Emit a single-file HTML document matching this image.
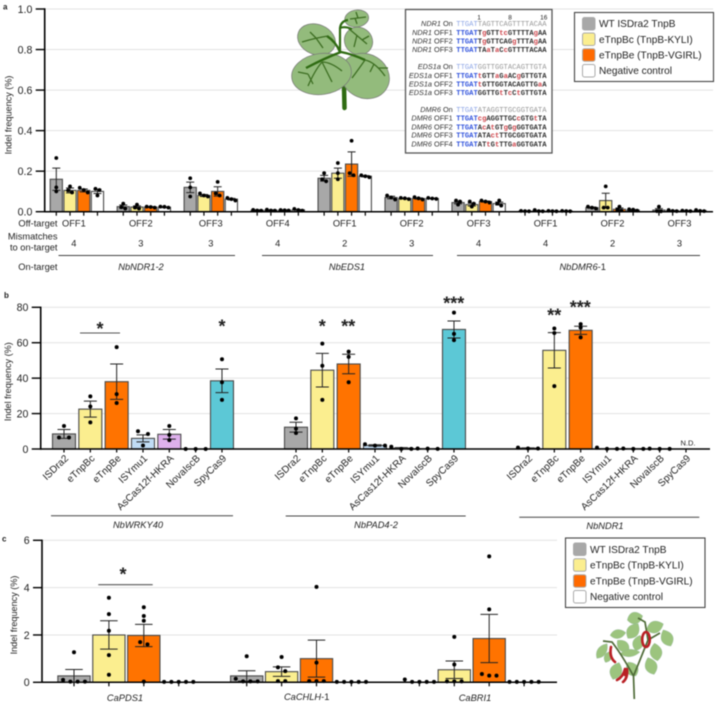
<!DOCTYPE html>
<html lang="en">
<head>
<meta charset="utf-8">
<title>Indel frequency chart</title>
<style>
html,body{margin:0;padding:0;background:#fff;width:720px;height:705px;overflow:hidden}
svg{display:block;filter:blur(0.4px)}
text{font-family:"Liberation Sans",sans-serif;fill:#222}
.it{font-style:italic}
.seq{font-family:"Liberation Mono",monospace;font-size:7.17px;font-weight:bold;fill:#333}
.seq .b{fill:#3355dd}
.seq .r{fill:#d0494f}
.seq.on{fill:#999;font-weight:normal}
.seq.on .b{fill:#8ea6e6}
.lab{font-size:7.3px;text-anchor:end;fill:#333}
.leg{font-size:10.1px}
.sm{font-size:9.3px}
.ax{font-size:9.1px}
.star{font-size:18px;text-anchor:middle;font-weight:bold}
.sw{stroke:#aaa;stroke-width:1}
.leaf{fill:#93bb7c;stroke:#777;stroke-width:.7}
.vein{fill:none;stroke:#3d6e22;stroke-width:1.3}
.pl{fill:#9cc47e;stroke:#8aa;stroke-width:.2}
</style>
</head>
<body>
<svg width="720" height="705" viewBox="0 0 720 705" xmlns="http://www.w3.org/2000/svg">
  <g id="grid-layer"></g>

  <g>
    <path d="M344 86 L344.5 108" stroke="#2f6b12" stroke-width="4.5" stroke-linecap="round" fill="none"/>
    <ellipse class="leaf" cx="356.7" cy="18.5" rx="12" ry="8.5" transform="rotate(-8 356.7 18.5)"/>
    <ellipse class="leaf" cx="358.5" cy="41" rx="14.5" ry="13.5" transform="rotate(35 358.5 41)"/>
    <ellipse class="leaf" cx="316.5" cy="39.5" rx="19.5" ry="15" transform="rotate(22 316.5 39.5)"/>
    <ellipse class="leaf" cx="365" cy="76" rx="25" ry="22" transform="rotate(28 365 76)"/>
    <ellipse class="leaf" cx="321.5" cy="74" rx="30" ry="20.5" transform="rotate(-8 321.5 74)"/>
    <path d="M340 52 L340 28 Q341 21 348 20 M340 28 Q345 26 352 29" fill="none" stroke="#2f6b12" stroke-width="2.2"/>
    <path d="M306 68 Q325 58 341 52 Q352 54 365 60 M340 52 Q336 42 327 36" fill="none" stroke="#2f6b12" stroke-width="2.4"/>
    <path class="vein" d="M322 62 Q315 70 308 86 M322 62 Q331 62 342 71 M322 62 L332 82 M308 74 L298 72 M308 74 L313 84 M302 42 Q315 38 328 36 M316 38 L323 48 M316 38 L310 32 M365 60 Q375 62 385 76 M365 60 Q358 70 352 78 M374 64 L370 72 M378 68 L388 68 M348 28 L367 44 M357 35 L354 47 M362 40 L369 36 M350 19 L366 17 M355 18 L357 24 M358 18 L356 12"/>
  </g>

  <g>
    <rect x="405.5" y="9.5" width="146.5" height="143.5" fill="#fff" stroke="#555" stroke-width="1.3"/>
    <text x="479" y="19.5" font-size="6.5" text-anchor="middle">1</text>
    <text x="510" y="19.5" font-size="6.5" text-anchor="middle">8</text>
    <text x="543.7" y="19.5" font-size="6.5" text-anchor="middle">16</text>

    <text class="lab" x="452.7" y="26"><tspan class="it">NDR1</tspan> On</text>
    <text class="seq on" x="456.3" y="26"><tspan class="b">TTGAT</tspan>TAGTTCAGTTTTACAA</text>
    <text class="lab" x="452.7" y="34.8"><tspan class="it">NDR1</tspan> OFF1</text>
    <text class="seq" x="456.3" y="34.8"><tspan class="b">TTGAT</tspan>T<tspan class="r">g</tspan>GTT<tspan class="r">tc</tspan>GTTTTA<tspan class="r">g</tspan>AA</text>
    <text class="lab" x="452.7" y="43.5"><tspan class="it">NDR1</tspan> OFF2</text>
    <text class="seq" x="456.3" y="43.5"><tspan class="b">TTGAT</tspan>T<tspan class="r">g</tspan>GTTCAG<tspan class="r">g</tspan>TTTA<tspan class="r">g</tspan>AA</text>
    <text class="lab" x="452.7" y="52.2"><tspan class="it">NDR1</tspan> OFF3</text>
    <text class="seq" x="456.3" y="52.2"><tspan class="b">TTGAT</tspan>TA<tspan class="r">a</tspan>T<tspan class="r">a</tspan>C<tspan class="r">c</tspan>GTTTTACAA</text>

    <text class="lab" x="452.7" y="68.8"><tspan class="it">EDS1a</tspan> On</text>
    <text class="seq on" x="456.3" y="68.8"><tspan class="b">TTGAT</tspan>GGTTGGTACAGTTGTA</text>
    <text class="lab" x="452.7" y="78"><tspan class="it">EDS1a</tspan> OFF1</text>
    <text class="seq" x="456.3" y="78"><tspan class="b">TTGAT</tspan><tspan class="r">t</tspan>GTT<tspan class="r">a</tspan>G<tspan class="r">a</tspan>AC<tspan class="r">g</tspan>GTTGTA</text>
    <text class="lab" x="452.7" y="86.5"><tspan class="it">EDS1a</tspan> OFF2</text>
    <text class="seq" x="456.3" y="86.5"><tspan class="b">TTGAT</tspan><tspan class="r">t</tspan>GTTGGTACAGTTG<tspan class="r">a</tspan>A</text>
    <text class="lab" x="452.7" y="95.2"><tspan class="it">EDS1a</tspan> OFF3</text>
    <text class="seq" x="456.3" y="95.2"><tspan class="b">TTGAT</tspan>GGTTG<tspan class="r">t</tspan>T<tspan class="r">c</tspan>C<tspan class="r">t</tspan>GTTGTA</text>

    <text class="lab" x="452.7" y="112"><tspan class="it">DMR6</tspan> On</text>
    <text class="seq on" x="456.3" y="112"><tspan class="b">TTGAT</tspan>ATAGGTTGCGGTGATA</text>
    <text class="lab" x="452.7" y="120.7"><tspan class="it">DMR6</tspan> OFF1</text>
    <text class="seq" x="456.3" y="120.7"><tspan class="b">TTGAT</tspan><tspan class="r">cg</tspan>AGGTTGC<tspan class="r">c</tspan>GTG<tspan class="r">t</tspan>TA</text>
    <text class="lab" x="452.7" y="129.4"><tspan class="it">DMR6</tspan> OFF2</text>
    <text class="seq" x="456.3" y="129.4"><tspan class="b">TTGAT</tspan>A<tspan class="r">c</tspan>A<tspan class="r">t</tspan>GT<tspan class="r">g</tspan>G<tspan class="r">g</tspan>GGTGATA</text>
    <text class="lab" x="452.7" y="137.7"><tspan class="it">DMR6</tspan> OFF3</text>
    <text class="seq" x="456.3" y="137.7"><tspan class="b">TTGAT</tspan>ATA<tspan class="r">ct</tspan>TTGCGGTGATA</text>
    <text class="lab" x="452.7" y="146.4"><tspan class="it">DMR6</tspan> OFF4</text>
    <text class="seq" x="456.3" y="146.4"><tspan class="b">TTGAT</tspan>AT<tspan class="r">t</tspan>G<tspan class="r">t</tspan>TTG<tspan class="r">a</tspan>GGTGATA</text>
  </g>

  <g id="bar-layer"></g>
  <g id="axis-layer"></g>
  <g id="mark-layer"></g>

  <!-- panel letters -->
  <text x="3" y="9.5" font-size="8" font-weight="bold">a</text>
  <text x="4" y="298" font-size="8" font-weight="bold">b</text>
  <text x="2" y="541.5" font-size="8" font-weight="bold">c</text>

  <!-- axis titles -->
  <text class="ax" transform="translate(11.5 115) rotate(-90)" text-anchor="middle">Indel frequency (%)</text>
  <text class="ax" transform="translate(11 381.7) rotate(-90)" text-anchor="middle">Indel frequency (%)</text>
  <text class="ax" transform="translate(17 615) rotate(-90)" text-anchor="middle">Indel frequency (%)</text>

  <!-- panel a annotations -->
  <text class="sm" x="57.5" y="226.5" text-anchor="end">Off-target</text>
  <text class="sm" x="57.5" y="239.5" text-anchor="end">Mismatches</text>
  <text class="sm" x="57.5" y="250.5" text-anchor="end">to on-target</text>
  <text class="sm" x="57.5" y="270" text-anchor="end">On-target</text>
  <g stroke="#444" stroke-width="1">
    <line x1="58.5" x2="235" y1="255.5" y2="255.5"/>
    <line x1="262" x2="433" y1="255.5" y2="255.5"/>
    <line x1="457" x2="700" y1="255.5" y2="255.5"/>
  </g>
  <text class="sm it" x="141" y="270" text-anchor="middle">NbNDR1-2</text>
  <text class="sm it" x="347" y="270" text-anchor="middle">NbEDS1</text>
  <text class="sm" x="582.7" y="270" text-anchor="middle"><tspan class="it">NbDMR6</tspan>-1</text>

  <!-- panel b annotations -->
  <g stroke="#444" stroke-width="1">
    <line x1="51" x2="233" y1="515.7" y2="515.7"/>
    <line x1="285.7" x2="465.7" y1="516" y2="516"/>
    <line x1="519.3" x2="699.3" y1="517.3" y2="517.3"/>
  </g>
  <text class="sm it" x="138" y="528" text-anchor="middle">NbWRKY40</text>
  <text class="sm it" x="376" y="528" text-anchor="middle">NbPAD4-2</text>
  <text class="sm it" x="605" y="529" text-anchor="middle">NbNDR1</text>
  <line x1="80" x2="120" y1="333" y2="333" stroke="#555" stroke-width="1.1"/>
  <text class="star" x="100" y="335">*</text>
  <text class="star" x="222" y="332.7">*</text>
  <text class="star" x="322.3" y="332.7">*</text>
  <text class="star" x="348.3" y="332.7">**</text>
  <text class="star" x="453.7" y="309.7">***</text>
  <text class="star" x="554.3" y="321.7">**</text>
  <text class="star" x="580.3" y="313.7">***</text>
  <text x="688" y="445.5" font-size="7.5" text-anchor="middle">N.D.</text>

  <!-- panel c annotations -->
  <line x1="98.3" x2="152.7" y1="584.7" y2="584.7" stroke="#555" stroke-width="1.1"/>
  <text class="star" x="123" y="580.7">*</text>
  <text class="sm it" x="125" y="701" text-anchor="middle">CaPDS1</text>
  <text class="sm" x="306.7" y="700" text-anchor="middle"><tspan class="it">CaCHLH</tspan>-1</text>
  <text class="sm it" x="475" y="701" text-anchor="middle">CaBRI1</text>

  <!-- legend a -->
  <g>
    <rect x="574.5" y="12.5" width="139" height="69" fill="#fff" stroke="#444" stroke-width="1.1"/>
    <rect class="sw" x="582.5" y="17.5" width="12.5" height="12.5" rx="2" fill="#a8a8a8"/>
    <text class="leg" x="599" y="27">WT ISDra2 TnpB</text>
    <rect class="sw" x="582.5" y="33" width="12.5" height="12.5" rx="2" fill="#fbee8f"/>
    <text class="leg" x="599" y="42.8">eTnpBc (TnpB-KYLI)</text>
    <rect class="sw" x="582.5" y="48.7" width="12.5" height="12.5" rx="2" fill="#ff6a00"/>
    <text class="leg" x="599" y="58.5">eTnpBe (TnpB-VGIRL)</text>
    <rect class="sw" x="582.5" y="64.5" width="12.5" height="12.5" rx="2" fill="#fff"/>
    <text class="leg" x="599" y="74.2">Negative control</text>
  </g>

  <!-- legend c -->
  <g>
    <rect x="565.5" y="538" width="139.5" height="69.5" fill="#fff" stroke="#444" stroke-width="1.1"/>
    <rect class="sw" x="573.5" y="543" width="12.5" height="12.5" rx="2" fill="#a8a8a8"/>
    <text class="leg" x="590" y="552.8">WT ISDra2 TnpB</text>
    <rect class="sw" x="573.5" y="558.8" width="12.5" height="12.5" rx="2" fill="#fbee8f"/>
    <text class="leg" x="590" y="568.5">eTnpBc (TnpB-KYLI)</text>
    <rect class="sw" x="573.5" y="574.7" width="12.5" height="12.5" rx="2" fill="#ff6a00"/>
    <text class="leg" x="590" y="584.5">eTnpBe (TnpB-VGIRL)</text>
    <rect class="sw" x="573.5" y="590.5" width="12.5" height="12.5" rx="2" fill="#fff"/>
    <text class="leg" x="590" y="600.2">Negative control</text>
  </g>

  <!-- pepper plant -->
  <g>
    <g id="pepper-leaves">
      <path class="pl" transform="translate(635 618) rotate(75)" d="M0,-8 C8,-3 8,4 0,8 C-8,4 -8,-3 0,-8Z"/>
      <path class="pl" transform="translate(655 627) rotate(70)" d="M0,-9 C8,-3 8,4 0,9 C-8,4 -8,-3 0,-9Z"/>
      <path class="pl" transform="translate(633 631) rotate(35)" d="M0,-9 C8,-3 8,4 0,9 C-8,4 -8,-3 0,-9Z"/>
      <path class="pl" transform="translate(618 634) rotate(80)" d="M0,-8 C6,-3 6,4 0,8 C-6,4 -6,-3 0,-8Z"/>
      <path class="pl" transform="translate(667 638) rotate(-25)" d="M0,-9 C8,-3 8,4 0,9 C-8,4 -8,-3 0,-9Z"/>
      <path class="pl" transform="translate(602 651) rotate(35)" d="M0,-9 C6,-3 6,4 0,9 C-6,4 -6,-3 0,-9Z"/>
      <path class="pl" transform="translate(623 646) rotate(-45)" d="M0,-8 C7,-3 7,4 0,8 C-7,4 -7,-3 0,-8Z"/>
      <path class="pl" transform="translate(638 643) rotate(15)" d="M0,-8 C7,-3 7,4 0,8 C-7,4 -7,-3 0,-8Z"/>
      <path class="pl" transform="translate(656 652) rotate(-10)" d="M0,-9 C8,-3 8,4 0,9 C-8,4 -8,-3 0,-9Z"/>
      <path class="pl" transform="translate(630 653) rotate(85)" d="M0,-10 C5,-3 5,4 0,10 C-5,4 -5,-3 0,-10Z"/>
      <path class="pl" transform="translate(616 671) rotate(20)" d="M0,-9 C8,-3 8,4 0,9 C-8,4 -8,-3 0,-9Z"/>
      <path class="pl" transform="translate(632 669) rotate(-30)" d="M0,-8 C8,-3 8,4 0,8 C-8,4 -8,-3 0,-8Z"/>
      <path class="pl" transform="translate(651 666) rotate(-20)" d="M0,-9 C8,-3 8,4 0,9 C-8,4 -8,-3 0,-9Z"/>
      <path class="pl" transform="translate(608 657) rotate(25)" d="M0,-6 C5,-3 5,3 0,6 C-5,3 -5,-3 0,-6Z"/>
    </g>
    <path d="M634.3 699 L633.5 676 Q622 655 612 642 L603 641 M633.5 676 Q642 655 648 640 L660 633 M648 640 L645 622 L638 618" fill="none" stroke="#4f6b38" stroke-width="1.7"/>
    <ellipse cx="646" cy="639.5" rx="3.8" ry="7.5" fill="none" stroke="#b92025" stroke-width="2.6"/>
    <path d="M611 647 Q609 657 615 662" fill="none" stroke="#b92025" stroke-width="2.6" stroke-linecap="round"/>
    <path d="M625 669 Q623 677 617 680 M627 669 Q628 678 623 682 M625 669 L625 675" fill="none" stroke="#b92025" stroke-width="2.6" stroke-linecap="round"/>
  </g>

<script>
// ---------- Panel a data ----------
const aOffTargets = ['OFF1','OFF2','OFF3','OFF4','OFF1','OFF2','OFF3','OFF1','OFF2','OFF3'];
const aMismatches = ['4','3','3','4','2','3','4','4','2','3'];
const aTickValues = [0,0.2,0.4,0.6,0.8,1];
const aTickLabels = ['0.0','0.2','0.4','0.6','0.8','1.0'];
const aWtMeans = [0.16,0.025,0.12,0.007,0.165,0.07,0.045,0.003,0.02,0.008];
const aKyliMeans = [0.105,0.023,0.08,0.007,0.19,0.065,0.035,0.004,0.055,0.005];
const aVgirlMeans = [0.105,0.023,0.10,0.007,0.235,0.065,0.05,0.003,0.012,0.004];
const aNegMeans = [0.10,0.022,0.062,0.009,0.175,0.065,0.04,0.003,0.008,0.005];
const aWtSems = [0.055,0.008,0.026,0.002,0.014,0.006,0.006,0.001,0.003,0.007];
const aKyliSems = [0.012,0.006,0.005,0.002,0.025,0.002,0.007,0.001,0.036,0.001];
const aVgirlSems = [0.007,0.002,0.023,0.002,0.06,0.003,0.003,0.001,0.006,0.001];
const aNegSems = [0.01,0.002,0.004,0.002,0.003,0.002,0.007,0.001,0.002,0.001];
const aWtPoints = [[0.265,0.12,0.10],[0.04,0.022,0.015],[0.165,0.12,0.075],[0.009,0.006,0.005],[0.19,0.16,0.15],[0.08,0.07,0.06],[0.055,0.05,0.035],[0.004,0.003,0.002],[0.025,0.02,0.015],[0.025,0.003,0.002]];
const aKyliPoints = [[0.125,0.095,0.105],[0.035,0.02,0.015],[0.09,0.08,0.075],[0.01,0.006,0.005],[0.24,0.19,0.16],[0.068,0.066,0.062],[0.05,0.04,0.025],[0.008,0.003,0.002],[0.125,0.02,0.02],[0.008,0.004,0.003]];
const aVgirlPoints = [[0.118,0.095,0.107],[0.025,0.023,0.02],[0.147,0.09,0.08],[0.008,0.007,0.006],[0.35,0.19,0.18],[0.072,0.066,0.06],[0.055,0.05,0.045],[0.004,0.003,0.002],[0.025,0.01,0.005],[0.005,0.004,0.003]];
const aNegPoints = [[0.113,0.107,0.08],[0.025,0.024,0.02],[0.068,0.062,0.055],[0.014,0.008,0.005],[0.18,0.175,0.17],[0.068,0.065,0.063],[0.055,0.04,0.03],[0.004,0.003,0.002],[0.012,0.01,0.005],[0.008,0.004,0.003]];

// ---------- Panel b data ----------
const bEnzymes = ['ISDra2','eTnpBc','eTnpBe','ISYmu1','AsCas12f-HKRA','NovaIscB','SpyCas9'];
const bTickValues = [0,20,40,60,80];
const bTickLabels = ['0','20','40','60','80'];
const bColors = ['#a8a8a8','#fbee8f','#ff7300','#c0dcf5','#deb0ec','#ffffff','#5cc8d6'];
const bWrkyMeans = [8.5,22.5,38,6,8.3,0,38.5];
const bWrkySems = [2.5,4.5,10,2,2.7,0,6.7];
const bWrkyPoints = [[13,6.5,6.5],[29.7,24,15],[57.5,31,26],[10,8.5,2],[13,8,5],[0,0,0],[50.7,37.7,27.7]];
const bPadMeans = [12.3,44.5,48,2,0.5,0.2,67.5];
const bPadSems = [2.8,9.5,5.5,0.4,0.3,0.1,4.8];
const bPadPoints = [[17.3,11.5,9],[59.5,47,27.7],[55,52,37.7],[1.9,2.7,1.9],[0.1,1.3,0.1],[0.2,0.1,0.3],[77,65,61.5]];
const bNdrMeans = [0.5,55.7,67,0.2,0.2,0.1,null];
const bNdrSems = [0.1,10,2.3,0.1,0.1,0,0];
const bNdrPoints = [[0.3,0.8,0.3],[68,65.5,35.5],[70.5,68.5,63],[0.1,0.8,0.1],[0.1,0.3,0.1],[0.1,0.2,0.1],[]];

// ---------- Panel c data ----------
const cTickValues = [0,2,4,6];
const cTickLabels = ['0','2','4','6'];
const cWtMeans = [0.27,0.27,0];
const cKyliMeans = [2.0,0.45,0.53];
const cVgirlMeans = [1.98,1.0,1.85];
const cNegMeans = [0,0,0];
const cWtSems = [0.27,0.22,0];
const cKyliSems = [0.6,0.2,0.37];
const cVgirlSems = [0.47,0.78,1.02];
const cNegSems = [0,0,0];
const cWtPoints = [[1.27,0.1,0.03,0.03,0.03],[1.1,0.15,0.04,0.04,0.04],[0.12,0.02,0.02,0.02,0.02]];
const cKyliPoints = [[3.57,2.88,2.18,1.15,0.32],[1.07,0.63,0.47,0.05,0.05],[1.92,0.75,0.04,0.04,0.04]];
const cVgirlPoints = [[3.17,2.8,2.6,1.7,1.6,0.03],[4.03,0.83,0.05,0.05,0.05],[5.32,3.08,0.28,0.35,0.28]];
const cNegPoints = [[0.02,0.02,0.02,0.02,0.02],[0.02,0.02,0.02,0.02,0.02],[0.02,0.02,0.02,0.02,0.02]];

// ---------- Shared ----------
const seriesColors = ['#a8a8a8','#fbee8f','#ff7300','#ffffff'];
const NS = 'http://www.w3.org/2000/svg';
const gridLayer = document.getElementById('grid-layer');
const barLayer = document.getElementById('bar-layer');
const axisLayer = document.getElementById('axis-layer');
const markLayer = document.getElementById('mark-layer');

function make(parent, tag, attrs, txt) {
  const el = document.createElementNS(NS, tag);
  for (const k in attrs) el.setAttribute(k, attrs[k]);
  if (txt !== undefined) el.textContent = txt;
  parent.appendChild(el);
  return el;
}
function linear(d0, d1, r0, r1) {
  return function (v) { return r0 + (v - d0) * (r1 - r0) / (d1 - d0); };
}

function drawAxes(cfg) {
  const y = cfg.y;
  cfg.values.forEach(function (v, i) {
    if (v !== 0) {
      const g = make(gridLayer, 'line', {x1: cfg.x0, x2: cfg.x1, y1: y(v), y2: y(v), stroke: '#e2e2e2', 'stroke-width': 1});
      
      
    }
    const t = make(axisLayer, 'line', {x1: cfg.x0 - 9, x2: cfg.x0, y1: y(v), y2: y(v), stroke: '#000', 'stroke-width': 1.4});
    
    
    const l = make(axisLayer, 'text', {x: cfg.x0 - 12.3, y: y(v) + 3.8, 'font-size': 10.6, 'text-anchor': 'end'}, cfg.labels[i]);
    
    
  });
  const ya = make(axisLayer, 'line', {x1: cfg.x0, x2: cfg.x0, y1: y(cfg.values[cfg.values.length - 1]) - 0.7, y2: y(0) + 0.7, stroke: '#000', 'stroke-width': 1.6});
  
  
  const xa = make(axisLayer, 'line', {x1: cfg.x0, x2: cfg.x1, y1: y(0), y2: y(0), stroke: '#000', 'stroke-width': 1.5});
  
  
}

// Cluster points with nearly equal values side by side, like a beeswarm.
function swarm(points, y, gap, step) {
  const sorted = points.slice().sort(function (a, b) { return b - a; });
  const out = [];
  let cluster = [];
  function flush() {
    cluster.forEach(function (v, i) {
      out.push({v: v, off: (i - (cluster.length - 1) / 2) * step});
    });
    cluster = [];
  }
  sorted.forEach(function (v) {
    if (cluster.length && Math.abs(y(v) - y(cluster[cluster.length - 1])) >= gap) flush();
    cluster.push(v);
  });
  flush();
  return out;
}

function drawBar(o) {
  const y = o.y;
  const tick = make(axisLayer, 'line', {x1: o.cx, x2: o.cx, y1: y(0), y2: y(0) + o.tick, stroke: '#000', 'stroke-width': 1.2});
  
  
  if (o.mean === null) return;
  if (o.mean > 0) {
    const r = make(barLayer, 'rect', {x: o.cx - o.w / 2, y: y(o.mean), width: o.w, height: y(0) - y(o.mean), fill: o.fill, stroke: '#4a4a4a', 'stroke-width': 1.1});
    
    
  }
  if (o.sem > 0) {
    const top = y(o.mean + o.sem);
    const bot = y(Math.max(0, o.mean - o.sem));
    const p = 'M' + o.cx + ' ' + top + 'V' + bot +
      'M' + (o.cx - o.cap / 2) + ' ' + top + 'H' + (o.cx + o.cap / 2) +
      'M' + (o.cx - o.cap / 2) + ' ' + bot + 'H' + (o.cx + o.cap / 2);
    const e = make(markLayer, 'path', {d: p, fill: 'none', stroke: '#222', 'stroke-width': 1});
    
    
  }
  swarm(o.points, y, o.gap, o.step).forEach(function (pt) {
    const c = make(markLayer, 'circle', {cx: o.cx + pt.off, cy: y(pt.v), r: o.r, fill: '#000'});
    
    
  });
}

// ---------- Panel a ----------
const yA = linear(0, 1, 211.7, 9);
function xA(group, bar) { return 56.3 + 66.96 * group + 13.72 * bar; }
drawAxes({id: 'panel-a', y: yA, x0: 44.7, x1: 713, values: aTickValues, labels: aTickLabels});
const aMeans = [aWtMeans, aKyliMeans, aVgirlMeans, aNegMeans];
const aSems = [aWtSems, aKyliSems, aVgirlSems, aNegSems];
const aPoints = [aWtPoints, aKyliPoints, aVgirlPoints, aNegPoints];
aOffTargets.forEach(function (label, g) {
  for (let s = 0; s < 4; s++) {
    drawBar({name: 'panel-a-' + label.toLowerCase() + '-' + g + '-s' + s, y: yA, cx: xA(g, s), w: 12.2, cap: 8,
      mean: aMeans[s][g], sem: aSems[s][g], points: aPoints[s][g], fill: seriesColors[s],
      r: 1.9, gap: 3, step: 4, tick: 4});
  }
  const c = xA(g, 1.5) - (g < 2 ? 3 : 0);
  const t = make(axisLayer, 'text', {x: c, y: 226.5, 'font-size': 9.3, 'text-anchor': 'middle'}, label);
  
  
  const m = make(axisLayer, 'text', {x: c, y: 246.5, 'font-size': 9.3, 'text-anchor': 'middle'}, aMismatches[g]);
  
  
});

// ---------- Panel b ----------
const yB = linear(0, 80, 449, 307.3);
function xB(group, bar) { return [64, 296, 528][group] + 26.33 * bar; }
drawAxes({id: 'panel-b', y: yB, x0: 40.7, x1: 710, values: bTickValues, labels: bTickLabels});
const bMeans = [bWrkyMeans, bPadMeans, bNdrMeans];
const bSems = [bWrkySems, bPadSems, bNdrSems];
const bPoints = [bWrkyPoints, bPadPoints, bNdrPoints];
bMeans.forEach(function (means, g) {
  bEnzymes.forEach(function (enzyme, i) {
    drawBar({name: 'panel-b-gene' + g + '-' + enzyme.toLowerCase(), y: yB, cx: xB(g, i), w: 23, cap: 13,
      mean: means[i], sem: bSems[g][i], points: bPoints[g][i], fill: bColors[i],
      r: 2, gap: 3.5, step: 10, tick: 3.5});
    const px = xB(g, i) + 5;
    const l = make(axisLayer, 'text', {x: px, y: 459, 'font-size': 10, 'text-anchor': 'end', transform: 'rotate(-44 ' + px + ' 459)'}, enzyme);
    
    
  });
});

// ---------- Panel c ----------
const yC = linear(0, 6, 682.3, 540.3);
function xC(group, bar) { return 74 + 172.7 * group + 34.9 * bar; }
drawAxes({id: 'panel-c', y: yC, x0: 42, x1: 557, values: cTickValues, labels: cTickLabels});
const cMeans = [cWtMeans, cKyliMeans, cVgirlMeans, cNegMeans];
const cSems = [cWtSems, cKyliSems, cVgirlSems, cNegSems];
const cPoints = [cWtPoints, cKyliPoints, cVgirlPoints, cNegPoints];
cWtMeans.forEach(function (_, g) {
  for (let s = 0; s < 4; s++) {
    drawBar({name: 'panel-c-gene' + g + '-s' + s, y: yC, cx: xC(g, s), w: 32.3, cap: 17.5,
      mean: cMeans[s][g], sem: cSems[s][g], points: cPoints[s][g], fill: seriesColors[s],
      r: 2, gap: 4, step: 7.3, tick: 4});
  }
});
</script>
</svg>
</body>
</html>
